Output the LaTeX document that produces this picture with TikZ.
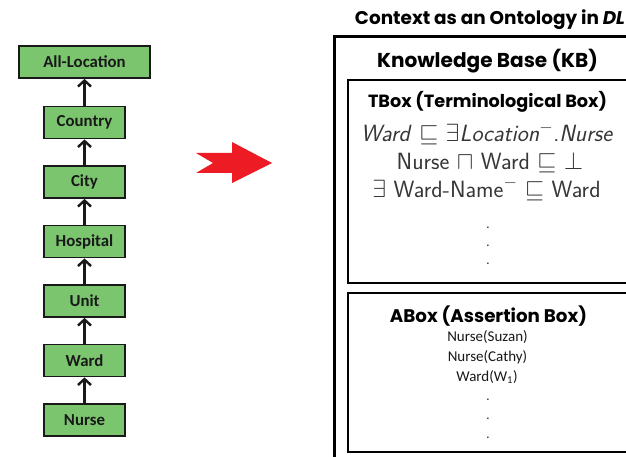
\documentclass[tikz,border=0pt]{standalone}
\usepackage{amssymb}
\usepackage{fontspec}
\usetikzlibrary{arrows.meta}
\newfontfamily\lblfont{Carlito}
\newfontfamily\comicfont{Poppins}
\definecolor{boxgreen}{RGB}{122,197,110}
\definecolor{arrred}{RGB}{237,28,36}
\definecolor{mathgray}{RGB}{55,55,55}
\tikzset{
  loc/.style={draw=black!90, line width=1.8pt, fill=boxgreen, minimum width=81pt,
    minimum height=32pt, inner sep=0pt, text=black!90,
    font=\lblfont\bfseries\fontsize{16.8}{18}\selectfont},
  uparrow/.style={-{Straight Barb[length=6pt,width=13pt,line width=2.4pt]}, line width=2.2pt, black!90},
  head/.style={anchor=base, inner sep=0pt, text=black},
  axiom/.style={anchor=base, inner sep=0pt, text=mathgray, font=\sffamily\fontsize{23.5}{27}\selectfont},
  fact/.style={anchor=base, inner sep=0pt, text=black!90, font=\lblfont\fontsize{15}{18}\selectfont},
  dotnode/.style={anchor=base, inner sep=0pt, text=mathgray, font=\sffamily\fontsize{18}{20}\selectfont},
}
\begin{document}
\begin{tikzpicture}[x=1pt,y=-1pt]
\useasboundingbox (0,0) rectangle (626,457);
\clip (0,0) rectangle (626,457);
\fill[white] (0,0) rectangle (626,457);

% left hierarchy
\node[loc, minimum width=131pt] (all) at (84.5,62) {All-Location};
\node[loc] (country) at (84.5,122.5) {Country};
\node[loc] (city) at (84.5,182) {City};
\node[loc] (hosp) at (84.5,241.5) {Hospital};
\node[loc] (unit) at (84.5,301) {Unit};
\node[loc] (ward) at (84.5,360.5) {Ward};
\node[loc] (nurse) at (84.5,420) {Nurse};
\draw[uparrow] (nurse.north) -- (ward.south);
\draw[uparrow] (ward.north) -- (unit.south);
\draw[uparrow] (unit.north) -- (hosp.south);
\draw[uparrow] (hosp.north) -- (city.south);
\draw[uparrow] (city.north) -- (country.south);
\draw[uparrow] (country.north) -- (all.south);

% red arrow
\fill[arrred] (196,153) -- (232,153) -- (232,142) -- (272,163) -- (232,183)
  -- (232,173) -- (196,173) -- (213,163) -- cycle;

% right side
\node[head] (title) at (490,25) {\resizebox{270pt}{!}{\comicfont\bfseries Context as an Ontology in \textit{DL}}};
\draw[line width=3pt] (334,37) rectangle (720,520);
\node[head] (kbt) at (487.5,68) {\resizebox{221pt}{!}{\comicfont\bfseries Knowledge Base (KB)}};
\draw[line width=2.4pt] (348,80) rectangle (720,283);
\draw[line width=2.4pt] (348,293) rectangle (720,452);

\node[head] (tboxt) at (487.5,108) {\resizebox{239pt}{!}{\comicfont\bfseries TBox (Terminological Box)}};
\node[axiom] (ax1) at (486.5,142) {\itshape Ward\/ {\upshape$\sqsubseteq$} {\upshape$\exists$}Location{\upshape$^{-}$}.Nurse};
\node[axiom] (ax2) at (490,170) {Nurse $\sqcap$ Ward $\sqsubseteq$ $\bot$};
\node[axiom] (ax3) at (486.5,197) {$\exists$ Ward-Name$^{-}$ $\sqsubseteq$ Ward};
\node[dotnode] (td1) at (488,228) {.};
\node[dotnode] (td2) at (488,246) {.};
\node[dotnode] (td3) at (488,264) {.};

\node[head] (aboxt) at (488.5,322) {\resizebox{197pt}{!}{\comicfont\bfseries ABox (Assertion Box)}};
\node[fact] (f1) at (487.5,341) {Nurse(Suzan)};
\node[fact] (f2) at (487.5,361) {Nurse(Cathy)};
\node[fact] (f3) at (487,381) {Ward(W\textsubscript{1})};
\node[dotnode] (ad1) at (488,400) {.};
\node[dotnode] (ad2) at (488,419) {.};
\node[dotnode] (ad3) at (488,438) {.};
\end{tikzpicture}
\end{document}
